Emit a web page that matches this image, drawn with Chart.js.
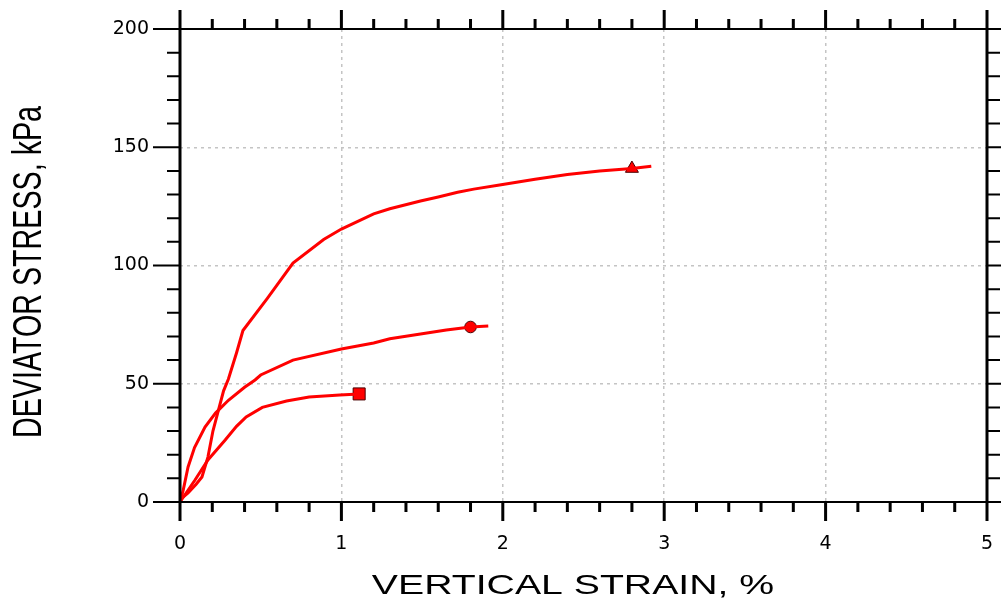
<!DOCTYPE html>
<html lang="en">
<head>
  <meta charset="UTF-8">
  <title>Deviator stress vs vertical strain</title>
  <script src="https://cdn.jsdelivr.net/npm/chart.js"></script>
  <style>
    body { margin: 0; background: #fff; }
  </style>
</head>
<body>
  <canvas id="grafico" width="1001" height="606"></canvas>

  <script>
    // curve with triangle marker (top)
    const strainA = [0, 0.012, 0.05, 0.10, 0.136, 0.173, 0.204, 0.235, 0.27, 0.30, 0.35, 0.39, 0.54, 0.70, 0.89, 1.0, 1.2, 1.3, 1.49, 1.6, 1.72, 1.82, 1.98, 2.2, 2.4, 2.6, 2.8, 2.92];
    const stressA = [0, 1.7, 3.8, 7.5, 10.6, 19, 30, 38, 47, 52, 63, 72.5, 86, 101, 111, 115.4, 121.8, 124, 127.3, 129, 131, 132.3, 134, 136.5, 138.5, 140, 141, 142];
    // curve with circle marker (middle)
    const strainB = [0, 0.02, 0.05, 0.09, 0.155, 0.22, 0.3, 0.4, 0.465, 0.5, 0.7, 1.0, 1.2, 1.3, 1.49, 1.65, 1.8, 1.91];
    const stressB = [0, 5, 14.8, 23, 31.7, 37.6, 43, 48.5, 51.6, 53.7, 60, 64.7, 67.2, 69, 71, 72.7, 74, 74.4];
    // curve with square marker (bottom)
    const strainC = [0, 0.02, 0.093, 0.173, 0.28, 0.35, 0.41, 0.51, 0.66, 0.80, 0.99, 1.11];
    const stressC = [0, 2, 9.3, 17.8, 26.2, 32, 36, 40, 42.7, 44.4, 45.2, 45.7];
    // end markers
    const markerStrain = [1.11, 1.80, 2.80];
    const markerStress = [45.7, 74, 141];
    const markerStyles = ['rect', 'circle', 'triangle'];

    const xTicks = [0, 1, 2, 3, 4, 5];
    const yTicks = [0, 50, 100, 150, 200];
    const xTitle = 'VERTICAL STRAIN, %';
    const yTitle = 'DEVIATOR STRESS, kPa';

    const punti = (xs, ys) => xs.map((x, i) => ({ x: x, y: ys[i] }));
    const linea = (xs, ys) => ({
      data: punti(xs, ys), showLine: true, borderColor: '#ff0000', borderWidth: 3,
      pointRadius: 0, tension: 0, fill: false
    });

    // frame, outward ticks (major + minor) and stretched axis titles
    const cornice = {
      id: 'cornice',
      afterDraw(chart) {
        const c = chart.ctx, a = chart.chartArea;
        const sx = chart.scales.x, sy = chart.scales.y;
        c.save();
        c.strokeStyle = '#000';
        c.lineCap = 'butt';
        // horizontal frame lines
        c.lineWidth = 2;
        c.beginPath();
        c.moveTo(a.left - 1.5, a.top); c.lineTo(a.right + 1.5, a.top);
        c.moveTo(a.left - 1.5, a.bottom); c.lineTo(a.right + 1.5, a.bottom);
        c.stroke();
        // vertical frame lines
        c.lineWidth = 3;
        c.beginPath();
        c.moveTo(a.left, a.top); c.lineTo(a.left, a.bottom);
        c.moveTo(a.right, a.top); c.lineTo(a.right, a.bottom);
        c.stroke();
        // x ticks (top and bottom)
        c.lineWidth = 3;
        c.beginPath();
        for (let i = 0; i <= 25; i++) {
          const px = sx.getPixelForValue(i / 5);
          const len = i % 5 === 0 ? 19 : 10;
          c.moveTo(px, a.bottom); c.lineTo(px, a.bottom + len);
          c.moveTo(px, a.top); c.lineTo(px, a.top - len);
        }
        c.stroke();
        // y ticks (left and right)
        c.lineWidth = 2;
        c.beginPath();
        for (let i = 0; i <= 20; i++) {
          const py = sy.getPixelForValue(i * 10);
          const len = i % 5 === 0 ? 27 : 13;
          c.moveTo(a.left, py); c.lineTo(a.left - len, py);
          c.moveTo(a.right, py); c.lineTo(a.right + len, py);
        }
        c.stroke();
        // titles (the source picture is stretched horizontally)
        c.fillStyle = '#000';
        c.textAlign = 'center';
        c.textBaseline = 'middle';
        c.font = '28px "Liberation Sans", Arial, sans-serif';
        c.save();
        c.translate(573, 586);
        c.scale(1.4, 1);
        c.fillText(xTitle, 0, 0);
        c.restore();
        c.save();
        c.translate(30, 272);
        c.scale(1.42, 1);
        c.rotate(-Math.PI / 2);
        c.font = '28.7px "Liberation Sans", Arial, sans-serif';
        c.fillText(yTitle, 0, 0);
        c.restore();
        c.restore();
      }
    };

    const griglia = (ctx) => {
      const v = ctx.tick ? ctx.tick.value : null;
      const s = ctx.scale;
      return (v === s.min || v === s.max) ? 'rgba(0,0,0,0)' : '#c4c4c4';
    };
    const senzaMargini = (s) => {
      s.paddingTop = 0; s.paddingBottom = 0; s.paddingLeft = 0; s.paddingRight = 0;
    };

    const ctx = document.getElementById('grafico').getContext('2d');
    const grafico = new Chart(ctx, {
      type: 'scatter',
      data: {
        datasets: [
          linea(strainA, stressA),
          linea(strainB, stressB),
          linea(strainC, stressC),
          {
            data: punti(markerStrain, markerStress),
            showLine: false,
            pointStyle: markerStyles,
            pointRadius: [8.5, 5.8, 7.5],
            pointBackgroundColor: '#ff0000',
            pointBorderColor: '#4a0000',
            pointBorderWidth: 1
          }
        ]
      },
      options: {
        responsive: false,
        animation: false,
        layout: { padding: { left: 0, right: 14, top: 29, bottom: 0 } },
        plugins: { legend: { display: false }, tooltip: { enabled: false } },
        scales: {
          x: {
            type: 'linear', min: 0, max: 5,
            afterFit: (s) => { s.height = 104; senzaMargini(s); },
            afterBuildTicks: (s) => { s.ticks = xTicks.map(v => ({ value: v })); },
            ticks: {
              padding: 31, color: '#000',
              font: { family: '"DejaVu Sans", sans-serif', size: 19 }
            },
            grid: { color: griglia, lineWidth: 1.5, drawTicks: false },
            border: { display: false, dash: [3, 4] }
          },
          y: {
            type: 'linear', min: 0, max: 200,
            afterFit: (s) => { s.width = 180; senzaMargini(s); },
            afterBuildTicks: (s) => { s.ticks = yTicks.map(v => ({ value: v })); },
            ticks: {
              padding: 31, color: '#000',
              font: { family: '"DejaVu Sans", sans-serif', size: 19 }
            },
            grid: { color: griglia, lineWidth: 1.5, drawTicks: false },
            border: { display: false, dash: [3, 4] }
          }
        }
      },
      plugins: [cornice]
    });
  </script>
</body>
</html>
